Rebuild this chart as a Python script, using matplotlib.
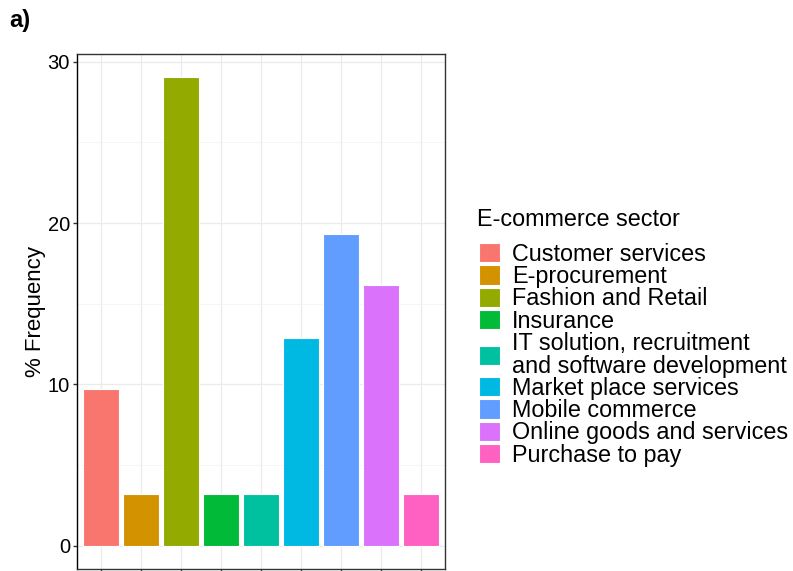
import matplotlib
matplotlib.use("Agg")
import matplotlib.pyplot as plt
from matplotlib.patches import Patch

plt.rcParams['font.family'] = ['Liberation Sans', 'DejaVu Sans']

# sectors and share of companies (%), n = 31
sectors = [
    "Customer services",
    "E-procurement",
    "Fashion and Retail",
    "Insurance",
    "IT solution, recruitment\nand software development",
    "Market place services",
    "Mobile commerce",
    "Online goods and services",
    "Purchase to pay",
]
freq = [9.68, 3.23, 29.03, 3.23, 3.23, 12.90, 19.35, 16.13, 3.23]
colors = ["#F8766D", "#D39200", "#93AA00", "#00BA38", "#00C19F",
          "#00B9E3", "#619CFF", "#DB72FB", "#FF61C3"]
yticks = [0, 10, 20, 30]

fig = plt.figure(figsize=(7.93, 5.71), dpi=100)
ax = fig.add_axes([0.0971, 0.0035, 0.4641, 0.9019])

pos = list(range(1, len(sectors) + 1))
ax.bar(pos, freq, width=0.9, color=colors, edgecolor="white", linewidth=0.8, zorder=3)

ymax = max(freq)
ax.set_xlim(0.4, len(sectors) + 0.6)
ax.set_ylim(-0.05 * ymax, ymax * 1.05)

# theme_bw style grid
ax.set_xticks(pos)
ax.set_xticklabels([])
ax.set_yticks(yticks)
ax.set_yticks([5, 15, 25], minor=True)
ax.grid(which="major", color="#EBEBEB", linewidth=0.9, zorder=0)
ax.grid(which="minor", axis="y", color="#F4F4F4", linewidth=0.6, zorder=0)
ax.tick_params(axis="y", which="minor", length=0)
ax.tick_params(axis="both", which="major", length=3, width=1, color="#333333",
               labelsize=14.5, pad=2, labelcolor="black")
for s in ax.spines.values():
    s.set_color("#333333")
    s.set_linewidth(1)
ax.spines["left"].set_color("black")

ax.set_ylabel("% Frequency", fontsize=16, labelpad=1.5)

# legend: title drawn separately so the gap below it can be set
fig.text(0.6015, 0.6045, "E-commerce sector", fontsize=16.8, va="baseline", ha="left")
handles = [Patch(facecolor=c, edgecolor="white", linewidth=0.8) for c in colors]
leg = fig.legend(handles, sectors, loc="upper left", bbox_to_anchor=(0.604, 0.575),
                 fontsize=16.8, frameon=False, handlelength=0.9, handleheight=0.9,
                 labelspacing=-0.03, handletextpad=0.5, borderpad=0, borderaxespad=0)
for t in leg.get_texts():
    t.set_linespacing(0.98)

fig.text(0.012, 0.953, "a)", fontsize=17, fontweight="bold")

fig.savefig("out.png", dpi=100)
